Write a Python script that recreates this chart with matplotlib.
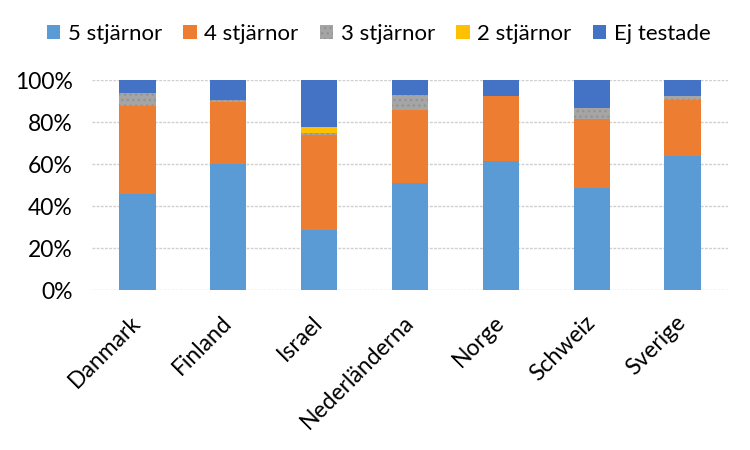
import matplotlib.pyplot as plt
import numpy as np

countries = ["Danmark", "Finland", "Israel", "Nederländerna", "Norge", "Schweiz", "Sverige"]
series_names = ["5 stjärnor", "4 stjärnor", "3 stjärnor", "2 stjärnor", "Ej testade"]

five_stars = [46.0, 60.3, 28.9, 51.1, 61.6, 48.9, 64.1]
four_stars = [41.9, 29.5, 45.1, 34.9, 30.9, 32.7, 26.5]
three_stars = [6.1, 0.8, 0.9, 7.0, 0.0, 5.2, 1.9]
two_stars = [0.0, 0.0, 2.9, 0.0, 0.0, 0.0, 0.0]
not_tested = [6.0, 9.4, 22.2, 7.0, 7.5, 13.2, 7.5]

colors = ["#5B9BD5", "#ED7D31", "#A5A5A5", "#FFC000", "#4472C4"]

plt.rcParams["font.family"] = ["Lato", "DejaVu Sans"]
plt.rcParams["hatch.linewidth"] = 1.0

fig = plt.figure(figsize=(7.5, 4.5), dpi=100)
ax = fig.add_axes([0.1227, 0.355, 0.848, 0.4667])

x = np.arange(len(countries))
bottom = np.zeros(len(countries))
handles = []
for name, vals, col in zip(series_names,
                           [five_stars, four_stars, three_stars, two_stars, not_tested],
                           colors):
    vals = np.array(vals) / 100.0
    if name == "3 stjärnor":
        b = ax.bar(x, vals, 0.4, bottom=bottom, color=col, edgecolor="#939393",
                   linewidth=0, hatch="...", label=name, zorder=3)
    else:
        b = ax.bar(x, vals, 0.4, bottom=bottom, color=col, linewidth=0,
                   label=name, zorder=3)
    handles.append(b)
    bottom += vals

ax.set_xlim(-0.5, len(countries) - 0.5)
ax.set_ylim(0, 1)
ax.set_yticks(np.linspace(0, 1, 6))
ax.set_yticklabels([f"{int(v)}%" for v in np.linspace(0, 100, 6)], fontsize=16.5)
ax.set_xticks(x)
ax.set_xticklabels(countries, rotation=45, ha="right", va="center",
                   rotation_mode="anchor", fontsize=16.5)
ax.tick_params(axis="both", length=0)
ax.tick_params(axis="y", pad=14)
ax.tick_params(axis="x", pad=21)
ax.grid(axis="y", color="#D0D0D0", linestyle=(0, (2, 1)), linewidth=1, zorder=0)
ax.set_axisbelow(True)
for s in ax.spines.values():
    s.set_visible(False)

fig.legend(handles=handles, labels=series_names, loc="center",
           bbox_to_anchor=(0.505, 0.925), ncol=5, frameon=False, fontsize=16,
           handlelength=0.6, handleheight=0.6, handletextpad=0.35,
           columnspacing=0.95)

fig.savefig("out.png", dpi=100)
